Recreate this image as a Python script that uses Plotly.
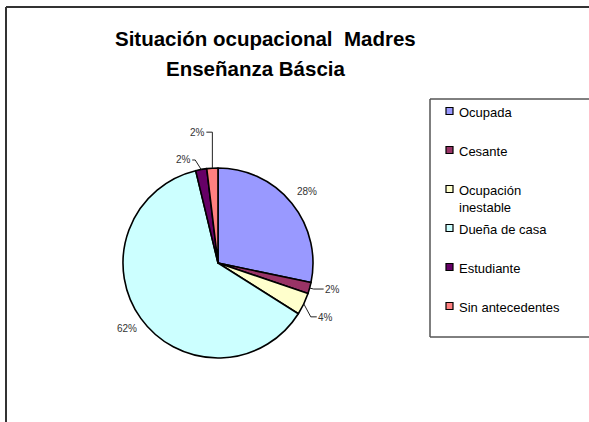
import math
import plotly.graph_objects as go

# ---- data ----
categories = ["Ocupada", "Cesante", "Ocupación inestable", "Dueña de casa",
              "Estudiante", "Sin antecedentes"]
legend_labels = ["Ocupada", "Cesante", "Ocupación<br>inestable", "Dueña de casa",
                 "Estudiante", "Sin antecedentes"]
counts = [15, 1, 2, 33, 1, 1]
colors = ["#9999FF", "#993366", "#FFFFCC", "#CCFFFF", "#660066", "#FF8080"]
title_line1 = "Situación ocupacional\u00a0 Madres"
title_line2 = "Enseñanza Báscia"

# ---- layout constants (pixels) ----
W, H = 589, 422
CX, CY, R = 218, 263, 95


def X(px):
    return px / W


def Y(py):
    return 1 - py / H


def hline(x0, x1, y, color, width):
    return dict(type="line", xref="paper", yref="paper",
                x0=X(x0), x1=X(x1), y0=Y(y), y1=Y(y),
                line=dict(color=color, width=width))


def vline(x, y0, y1, color, width):
    return dict(type="line", xref="paper", yref="paper",
                x0=X(x), x1=X(x), y0=Y(y0), y1=Y(y1),
                line=dict(color=color, width=width))


# label placement per slice: radial distance, or elbow/label offsets from the rim point
label_spec = [
    {"radial": 114},
    {"elbow": (4, 1), "shift": (23, 1)},
    {"elbow": (7, 13), "shift": (22, 14)},
    {"radial": 112},
    {"elbow": (-6, -9.5), "shift": (-18, -9.5)},
    {"elbow": (0, -36), "shift": (-15, -36)},
]

fig = go.Figure(go.Pie(
    labels=categories,
    values=counts,
    sort=False,
    direction="clockwise",
    rotation=0,
    textinfo="none",
    hoverinfo="label+percent",
    marker=dict(colors=colors, line=dict(color="black", width=1.6)),
    domain=dict(x=[X(CX - R), X(CX + R)], y=[Y(CY + R), Y(CY - R)]),
    showlegend=False,
))

annotations = []
shapes = []

# outer chart frame (top and left edges visible)
shapes.append(hline(6, W + 20, 7, "#333333", 2))
shapes.append(vline(6, 7, H + 20, "#333333", 2))

# title
for txt, cx, cy in [(title_line1, 265, 38), (title_line2, 255, 68)]:
    annotations.append(dict(x=X(cx), y=Y(cy), xref="paper", yref="paper",
                            text="<b>" + txt + "</b>", showarrow=False,
                            xanchor="center", yanchor="middle",
                            font=dict(family="Liberation Sans, Arial", size=20.5, color="black")))

# percentage labels with leader lines
total = sum(counts)
cum = 0
for v, spec in zip(counts, label_spec):
    mid = (cum + v / 2) / total * 2 * math.pi
    cum += v
    pct = f"{round(100 * v / total)}%"
    sx, sy = math.sin(mid), -math.cos(mid)
    if "radial" in spec:
        lx, ly = CX + spec["radial"] * sx, CY + spec["radial"] * sy
    else:
        rx, ry = CX + R * sx, CY + R * sy
        ex, ey = rx + spec["elbow"][0], ry + spec["elbow"][1]
        lx, ly = rx + spec["shift"][0], ry + spec["shift"][1]
        side = 1 if spec["shift"][0] > 0 else -1
        endx = lx - side * 9
        shapes.append(dict(type="path", xref="paper", yref="paper",
                           path=f"M {X(rx)} {Y(ry)} L {X(ex)} {Y(ey)} L {X(endx)} {Y(ey)}",
                           line=dict(color="#222222", width=1)))
    annotations.append(dict(x=X(lx), y=Y(ly), xref="paper", yref="paper",
                            text=pct, showarrow=False, xanchor="center", yanchor="middle",
                            font=dict(family="Liberation Sans, Arial", size=10, color="#333333")))

# custom legend box (open to the right, like the reference)
shapes.append(hline(430, W + 20, 99, "black", 1))
shapes.append(hline(430, W + 20, 337, "black", 1))
shapes.append(vline(430, 99, 337, "#555555", 1.5))
row_y0, row_gap = 111, 39
for i, (lab, col) in enumerate(zip(legend_labels, colors)):
    yy = row_y0 + i * row_gap
    shapes.append(dict(type="rect", xref="paper", yref="paper",
                       x0=X(446), y0=Y(yy + 3.5), x1=X(453), y1=Y(yy - 3.5),
                       line=dict(color="black", width=1.2), fillcolor=col))
    annotations.append(dict(x=X(457), y=Y(yy - 8), xref="paper", yref="paper",
                            text=lab, showarrow=False, xanchor="left", yanchor="top",
                            align="left",
                            font=dict(family="Liberation Sans, Arial", size=13, color="black")))

fig.update_layout(
    width=W, height=H,
    margin=dict(l=0, r=0, t=0, b=0),
    paper_bgcolor="white", plot_bgcolor="white",
    showlegend=False,
    shapes=shapes,
    annotations=annotations,
)

fig.write_html("out.html", config={"displayModeBar": False},
               post_script="document.body.style.margin='0';document.body.style.overflow='hidden';")
